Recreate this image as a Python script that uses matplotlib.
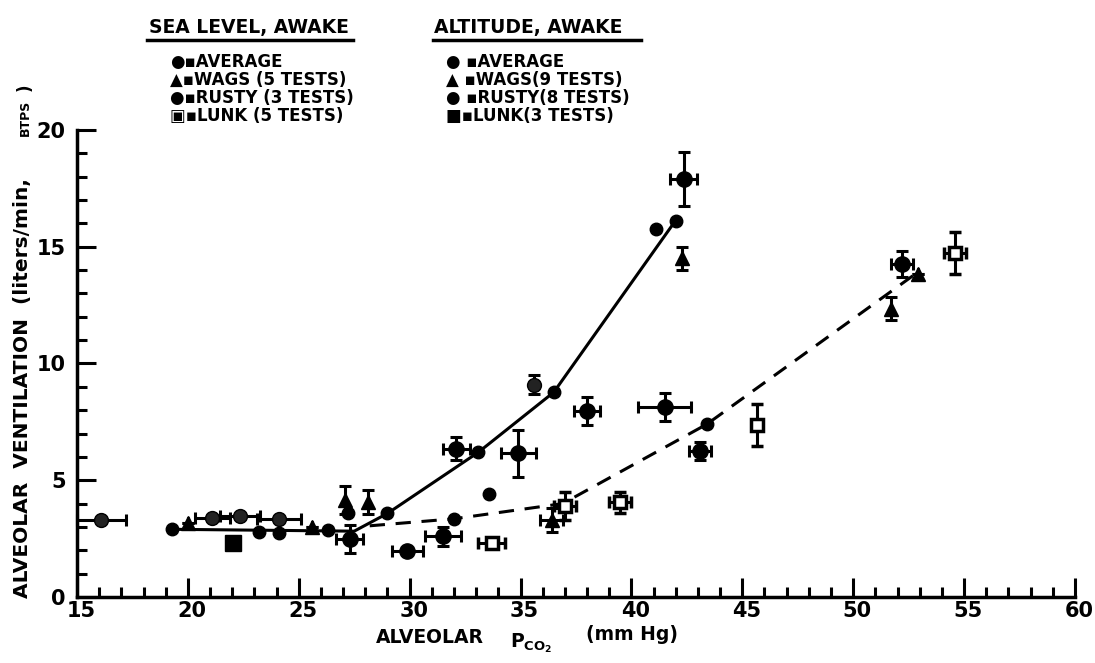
import matplotlib
matplotlib.use('Agg')
import matplotlib.pyplot as plt
import matplotlib.transforms as mtransforms

# fitted lines
sea_line_x = [19.3, 27.5, 29.0, 33.1, 36.5, 41.9]
sea_line_y = [2.9, 2.82, 3.58, 6.2, 8.77, 16.0]
alt_line_x = [28.2, 32.0, 36.9, 43.4, 52.9]
alt_line_y = [3.05, 3.35, 4.0, 7.4, 13.9]

# averages (no error bars)
avg_x = [19.3, 23.2, 24.1, 26.3, 27.2, 29.0, 33.1, 36.5, 41.1, 42.0, 32.0, 43.4, 33.6]
avg_y = [2.9, 2.8, 2.75, 2.86, 3.58, 3.58, 6.2, 8.77, 15.75, 16.1, 3.35, 7.4, 4.4]

# Wags (triangles)
wags_x = [20.0, 25.6, 27.1, 28.1, 42.3, 51.7, 52.9, 36.4]
wags_y = [3.15, 3.0, 4.15, 4.07, 14.5, 12.35, 13.85, 3.3]
wags_xerr = [0, 0, 0, 0, 0, 0, 0, 0.5]
wags_yerr = [0, 0, 0.6, 0.5, 0.5, 0.5, 0, 0.5]

# Rusty, sea level
rusty_sl_x = [16.1, 21.1, 22.35, 24.1, 35.6]
rusty_sl_y = [3.3, 3.4, 3.46, 3.36, 9.1]
rusty_sl_xerr = [1.1, 0.8, 0.9, 1.0, 0]
rusty_sl_yerr = [0, 0, 0, 0, 0.4]

# Rusty, altitude
rusty_alt_x = [27.3, 29.9, 31.5, 32.1, 34.9, 38.0, 41.5, 43.1, 42.35, 52.2]
rusty_alt_y = [2.5, 1.95, 2.6, 6.35, 6.15, 7.95, 8.15, 6.25, 17.9, 14.25]
rusty_alt_xerr = [0.6, 0.7, 0.8, 0.6, 0.8, 0.6, 1.2, 0.5, 0.6, 0.5]
rusty_alt_yerr = [0.6, 0.15, 0.4, 0.5, 1.0, 0.6, 0.6, 0.4, 1.15, 0.55]

# Lunk, sea level (open squares)
lunk_sl_x = [33.7, 37.0, 39.5, 45.65, 54.6]
lunk_sl_y = [2.32, 3.9, 4.05, 7.35, 14.75]
lunk_sl_xerr = [0.6, 0.5, 0.5, 0, 0.5]
lunk_sl_yerr = [0.1, 0.6, 0.45, 0.9, 0.9]

# Lunk, altitude
lunk_alt_x = [22.05]
lunk_alt_y = [2.3]

fig = plt.figure(figsize=(10.95, 6.63), dpi=100)
ax = fig.add_axes([0.0703, 0.0995, 0.9114, 0.7045])

ax.plot(sea_line_x, sea_line_y, color='black', lw=2.2)
ax.plot(alt_line_x, alt_line_y, color='black', lw=2.2, dashes=(5, 3.5))

eb = dict(color='black', elinewidth=2.2, capsize=4, capthick=2.2, ls='none', clip_on=False)
ax.errorbar(rusty_sl_x, rusty_sl_y, xerr=rusty_sl_xerr, yerr=rusty_sl_yerr,
            marker='o', ms=10, mfc='#222222', **eb)
ax.errorbar(rusty_alt_x, rusty_alt_y, xerr=rusty_alt_xerr, yerr=rusty_alt_yerr,
            marker='o', ms=11, mfc='black', **eb)
ax.errorbar(wags_x, wags_y, xerr=wags_xerr, yerr=wags_yerr,
            marker='^', ms=10, mfc='black', **eb)
ax.errorbar(lunk_sl_x, lunk_sl_y, xerr=lunk_sl_xerr, yerr=lunk_sl_yerr,
            marker='s', ms=9, mfc='white', mew=2.5, **eb)
ax.plot(lunk_alt_x, lunk_alt_y, 's', color='black', ms=11)
ax.plot(avg_x, avg_y, 'o', color='black', ms=9)

ax.set_xlim(15, 60)
ax.set_ylim(0, 20)
ax.spines[['top', 'right']].set_visible(False)
for s in ['left', 'bottom']:
    ax.spines[s].set_linewidth(2.5)
ax.set_xticks(range(15, 61, 5))
ax.set_xticks(range(15, 61), minor=True)
ax.set_yticks(range(0, 21, 5))
ax.set_yticks(range(0, 21), minor=True)
ax.tick_params(which='major', direction='in', length=14, width=2.2, labelsize=15)
ax.tick_params(axis='x', which='major', pad=3)
ax.tick_params(axis='y', which='major', pad=8)
ax.tick_params(which='minor', direction='in', length=7, width=2.2)
shift = mtransforms.ScaledTranslation(4 / 100, 0, fig.dpi_scale_trans)
for lab in ax.get_xticklabels():
    lab.set_fontweight('bold')
    lab.set_transform(lab.get_transform() + shift)
for lab in ax.get_yticklabels():
    lab.set_fontweight('bold')

# axis labels
fig.text(0.343, 0.039, 'ALVEOLAR', fontsize=13.5, fontweight='bold', va='center')
fig.text(0.466, 0.03, r'P$_{\mathbf{CO_2}}$', fontsize=13.5, fontweight='bold', va='center')
fig.text(0.535, 0.043, '(mm Hg)', fontsize=13.5, fontweight='bold', va='center')
fig.text(0.021, 0.415, 'ALVEOLAR  VENTILATION  (liters/min,', fontsize=14.5,
         fontweight='bold', rotation=90, ha='center', va='center')
fig.text(0.023, 0.822, 'BTPS', fontsize=9, fontweight='bold', rotation=90,
         ha='center', va='center')
fig.text(0.023, 0.868, ')', fontsize=12, fontweight='bold', rotation=90,
         ha='center', va='center')

# legend blocks
fig.text(0.136, 0.958, 'SEA LEVEL, AWAKE', fontsize=13.5, fontweight='bold', va='center')
fig.add_artist(plt.Line2D([0.134, 0.322], [0.94, 0.94], color='black', lw=2.5))
fig.text(0.396, 0.958, 'ALTITUDE, AWAKE', fontsize=13.5, fontweight='bold', va='center')
fig.add_artist(plt.Line2D([0.395, 0.585], [0.94, 0.94], color='black', lw=2.5))

sea_entries = ['\u25cf\u25aaAVERAGE', '\u25b2\u25aaWAGS (5 TESTS)',
               '\u25cf\u25aaRUSTY (3 TESTS)', '\u25a3\u25aaLUNK (5 TESTS)']
alt_entries = ['\u25cf \u25aaAVERAGE', '\u25b2 \u25aaWAGS(9 TESTS)',
               '\u25cf \u25aaRUSTY(8 TESTS)', '\u25a0\u25aaLUNK(3 TESTS)']
rows = [0.906, 0.879, 0.852, 0.825]
for txt, yy in zip(sea_entries, rows):
    fig.text(0.155, yy, txt, fontsize=12, fontweight='bold', va='center')
for txt, yy in zip(alt_entries, rows):
    fig.text(0.407, yy, txt, fontsize=12, fontweight='bold', va='center')

fig.savefig('out.png', dpi=100)
